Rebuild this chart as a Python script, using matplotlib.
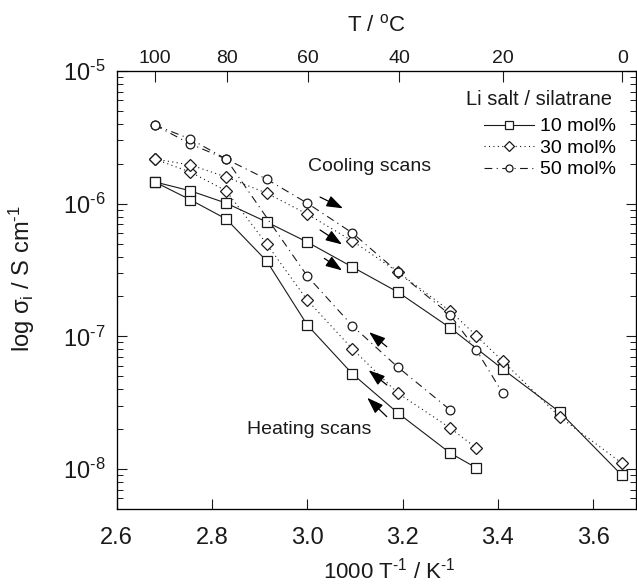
import numpy as np
import matplotlib
matplotlib.use("Agg")
import matplotlib.pyplot as plt
from matplotlib.ticker import LogLocator, FixedLocator, FixedFormatter, NullFormatter

plt.rcParams['font.family'] = ['Liberation Sans', 'DejaVu Sans']
plt.rcParams['mathtext.fontset'] = 'custom'
plt.rcParams['mathtext.rm'] = 'Liberation Sans'
plt.rcParams['mathtext.it'] = 'Liberation Sans:italic'
plt.rcParams['mathtext.bf'] = 'Liberation Sans:bold'
plt.rcParams['mathtext.default'] = 'regular'

# 1000/T (K^-1) positions of the measurement temperatures
x_cool_10 = [2.68, 2.755, 2.83, 2.915, 3.0, 3.095, 3.19, 3.30, 3.41, 3.53, 3.66]
y_cool_10 = [1.46e-6, 1.25e-6, 1.01e-6, 7.28e-7, 5.14e-7, 3.33e-7, 2.16e-7, 1.16e-7, 5.68e-8, 2.69e-8, 9.0e-9]
x_heat_10 = [2.68, 2.755, 2.83, 2.915, 3.0, 3.095, 3.19, 3.30, 3.355]
y_heat_10 = [1.46e-6, 1.07e-6, 7.67e-7, 3.70e-7, 1.22e-7, 5.21e-8, 2.65e-8, 1.32e-8, 1.02e-8]

x_cool_30 = [2.68, 2.755, 2.83, 2.915, 3.0, 3.095, 3.19, 3.30, 3.355, 3.41, 3.53, 3.66]
y_cool_30 = [2.17e-6, 1.96e-6, 1.59e-6, 1.20e-6, 8.36e-7, 5.23e-7, 3.06e-7, 1.55e-7, 1.01e-7, 6.53e-8, 2.47e-8, 1.11e-8]
x_heat_30 = [2.68, 2.755, 2.83, 2.915, 3.0, 3.095, 3.19, 3.30, 3.355]
y_heat_30 = [2.17e-6, 1.73e-6, 1.25e-6, 4.97e-7, 1.88e-7, 8.03e-8, 3.74e-8, 2.04e-8, 1.44e-8]

x_cool_50 = [2.68, 2.755, 2.83, 2.915, 3.0, 3.095, 3.19, 3.30, 3.355, 3.41]
y_cool_50 = [3.92e-6, 3.07e-6, 2.17e-6, 1.53e-6, 1.01e-6, 6.01e-7, 3.06e-7, 1.45e-7, 7.89e-8, 3.74e-8]
x_heat_50 = [2.68, 2.755, 2.83, 3.0, 3.095, 3.19, 3.30]
y_heat_50 = [3.92e-6, 2.82e-6, 2.17e-6, 2.85e-7, 1.20e-7, 5.87e-8, 2.79e-8]

labels = ["10 mol%", "30 mol%", "50 mol%"]
top_T = [100, 80, 60, 40, 20, 0]
x_ticks = [2.6, 2.8, 3.0, 3.2, 3.4, 3.6]
y_ticks = [1e-8, 1e-7, 1e-6, 1e-5]
y_ticklabels = [r"$10^{\text{-}8}$", r"$10^{\text{-}7}$", r"$10^{\text{-}6}$", r"$10^{\text{-}5}$"]

# arrow annotations: (x_tail, logy_tail, x_head, logy_head)
cool_arrows = [(3.027, -5.950, 3.075, -6.035),
               (3.027, -6.198, 3.073, -6.307),
               (3.036, -6.412, 3.073, -6.503)]
heat_arrows = [(3.167, -7.078, 3.130, -6.968),
               (3.167, -7.366, 3.129, -7.255),
               (3.167, -7.605, 3.126, -7.463)]

ink = "#1a1a1a"
fig = plt.figure(figsize=(6.37, 5.86), dpi=100)
ax = fig.add_axes([0.183, 0.1314, 0.8155, 0.7474])

styles = [
    dict(marker='s', ms=7.8, linestyle='-'),
    dict(marker='D', ms=6.2, linestyle=(0, (1, 3))),
    dict(marker='o', ms=6.3, linestyle=(0, (7, 4, 1, 4))),
]
series = [(x_cool_10, y_cool_10, x_heat_10, y_heat_10),
          (x_cool_30, y_cool_30, x_heat_30, y_heat_30),
          (x_cool_50, y_cool_50, x_heat_50, y_heat_50)]

for (xc, yc, xh, yh), st, lab in zip(series, styles, labels):
    for xs, ys, l in ((xh, yh, '_nolegend_'), (xc, yc, lab)):
        ax.plot(xs, ys, color=ink, lw=0.8, mfc='white', mec=ink, mew=0.9,
                label=l, **st)

ax.set_yscale('log')
ax.set_xlim(2.6, 3.69)
ax.set_ylim(5e-9, 1e-5)

ax.set_xticks(x_ticks)
ax.set_xticklabels([f"{v:.1f}" for v in x_ticks])
ax.yaxis.set_major_locator(FixedLocator(y_ticks))
ax.yaxis.set_major_formatter(FixedFormatter(y_ticklabels))
ax.yaxis.set_minor_locator(LogLocator(base=10, subs=np.arange(2, 10)))
ax.yaxis.set_minor_formatter(NullFormatter())

ax.tick_params(axis='x', which='both', direction='in', length=7, width=0.8,
               labelsize=17, pad=13, top=False, colors=ink)
ax.tick_params(axis='y', which='major', direction='in', length=7, width=0.8,
               labelsize=17, pad=8, right=True, colors=ink)
ax.tick_params(axis='y', which='minor', direction='in', length=4.5, width=0.7,
               right=True, colors=ink)
for sp in ax.spines.values():
    sp.set_linewidth(0.9)
    sp.set_color(ink)

ax2 = ax.twiny()
ax2.set_xlim(ax.get_xlim())
ax2.set_xticks([1000.0 / (t + 273.15) for t in top_T])
ax2.set_xticklabels([str(t) for t in top_T])
ax2.tick_params(axis='x', direction='in', length=8, width=0.8, labelsize=14,
                pad=3, colors=ink)
ax2.set_xlabel("T / $^{o}$C", fontsize=16, labelpad=13, color=ink)

ax.set_xlabel(r"1000 T$^{\text{-}1}$ / K$^{\text{-}1}$", fontsize=16, color=ink)
ax.xaxis.set_label_coords(0.525, -0.11)
ax.set_ylabel(r"log σ$_{i}$ / S cm$^{\text{-}1}$", fontsize=17, color=ink)
ax.yaxis.set_label_coords(-0.153, 0.527)

for x0, y0, x1, y1 in cool_arrows + heat_arrows:
    ax.annotate("", xy=(x1, 10 ** y1), xytext=(x0, 10 ** y0),
                arrowprops=dict(arrowstyle="-|>,head_length=1.0,head_width=0.35",
                                color="black", lw=0.9, shrinkA=0, shrinkB=0))

ax.text(3.002, 1.92e-6, "Cooling scans", fontsize=14, color=ink,
        ha='left', va='center')
ax.text(2.874, 1.97e-8, "Heating scans", fontsize=14, color=ink,
        ha='left', va='center')

ax.text(0.954, 0.934, "Li salt / silatrane", transform=ax.transAxes,
        fontsize=14.5, color=ink, ha='right', va='center')
leg = ax.legend(loc='upper right', bbox_to_anchor=(0.962, 0.893), frameon=False,
                fontsize=14, handlelength=2.6, handletextpad=0.3,
                labelspacing=0.2, borderpad=0, borderaxespad=0, markerscale=0.8)

fig.savefig("out.png", dpi=100)
